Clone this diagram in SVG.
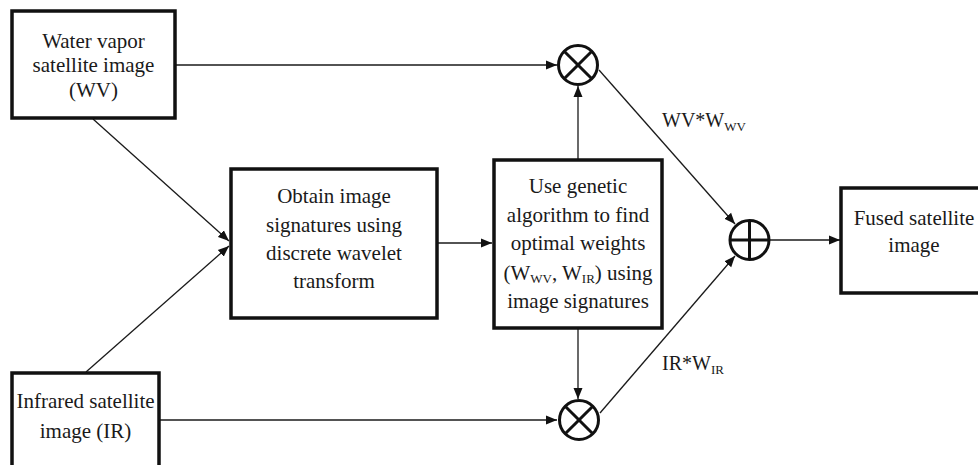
<svg xmlns="http://www.w3.org/2000/svg" width="978" height="465" viewBox="0 0 978 465" font-family="'Liberation Serif', 'Times New Roman', 'DejaVu Serif', serif">
<style>
.box{fill:#fff;stroke:#111;stroke-width:3.5}
text{font-family:'Liberation Serif','Times New Roman','DejaVu Serif',serif}
.t{font-size:21px;fill:#1a1a1a;text-anchor:middle}
.lbl{font-size:20px;fill:#1a1a1a}
.sub{font-size:13px}
.ln{fill:none;stroke:#1a1a1a;stroke-width:1.3}
.op{fill:#fff;stroke:#111;stroke-width:3}
.opl{stroke:#111;stroke-width:3}
</style>
<defs>
<marker id="arr" markerUnits="userSpaceOnUse" markerWidth="12" markerHeight="10" refX="11" refY="5" orient="auto">
<path d="M0,0.5 L11,5 L0,9.5 z" fill="#111"/>
</marker>
</defs>
<rect width="978" height="465" fill="#fff"/>
<g id="connectors">
<line class="ln" x1="175" y1="65" x2="557" y2="65" marker-end="url(#arr)"/>
<line class="ln" x1="93" y1="119" x2="229" y2="241" marker-end="url(#arr)"/>
<line class="ln" x1="86" y1="372" x2="229" y2="246" marker-end="url(#arr)"/>
<line class="ln" x1="437" y1="243" x2="492" y2="243" marker-end="url(#arr)"/>
<line class="ln" x1="578" y1="159" x2="578" y2="86" marker-end="url(#arr)"/>
<line class="ln" x1="578" y1="329" x2="578" y2="399" marker-end="url(#arr)"/>
<line class="ln" x1="159" y1="420" x2="557" y2="420" marker-end="url(#arr)"/>
<line class="ln" x1="599" y1="70" x2="735" y2="224" marker-end="url(#arr)"/>
<line class="ln" x1="600" y1="413" x2="735" y2="256" marker-end="url(#arr)"/>
<line class="ln" x1="770" y1="240" x2="840" y2="240" marker-end="url(#arr)"/>
</g>
<g id="wv">
<rect class="box" x="12" y="11" width="163" height="107"/>
<text class="t" x="93.5" y="48">Water vapor</text>
<text class="t" x="93.5" y="72">satellite image</text>
<text class="t" x="93.5" y="97">(WV)</text>
</g>
<g id="ir">
<rect class="box" x="12" y="373" width="147" height="95"/>
<text class="t" x="85.5" y="408">Infrared satellite</text>
<text class="t" x="85.5" y="438">image (IR)</text>
</g>
<g id="dwt">
<rect class="box" x="231" y="169" width="206" height="149"/>
<text class="t" x="334" y="203">Obtain image</text>
<text class="t" x="334" y="232">signatures using</text>
<text class="t" x="334" y="260">discrete wavelet</text>
<text class="t" x="334" y="288">transform</text>
</g>
<g id="ga">
<rect class="box" x="494" y="160" width="168" height="168"/>
<text class="t" x="578" y="193">Use genetic</text>
<text class="t" x="578" y="222">algorithm to find</text>
<text class="t" x="578" y="250">optimal weights</text>
<text class="t" x="578" y="280">(W<tspan class="sub" dy="3">WV</tspan><tspan dy="-3">, W</tspan><tspan class="sub" dy="3">IR</tspan><tspan dy="-3">) using</tspan></text>
<text class="t" x="578" y="308">image signatures</text>
</g>
<g id="mul1">
<circle class="op" cx="578" cy="65" r="19.5"/>
<line class="opl" x1="564.2" y1="51.2" x2="591.8" y2="78.8"/>
<line class="opl" x1="591.8" y1="51.2" x2="564.2" y2="78.8"/>
</g>
<g id="mul2">
<circle class="op" cx="579" cy="420" r="19.5"/>
<line class="opl" x1="565.2" y1="406.2" x2="592.8" y2="433.8"/>
<line class="opl" x1="592.8" y1="406.2" x2="565.2" y2="433.8"/>
</g>
<g id="sum">
<circle class="op" cx="749.5" cy="240" r="19.5"/>
<line class="opl" x1="730" y1="240" x2="769" y2="240"/>
<line class="opl" x1="749.5" y1="220.5" x2="749.5" y2="259.5"/>
</g>
<g id="fused">
<rect class="box" x="841" y="188" width="147" height="105"/>
<text class="t" x="914" y="225">Fused satellite</text>
<text class="t" x="914" y="252">image</text>
</g>
<g id="labels">
<text class="lbl" x="662" y="127">WV*W<tspan class="sub" dy="4">WV</tspan></text>
<text class="lbl" x="662" y="370">IR*W<tspan class="sub" dy="4">IR</tspan></text>
</g>
</svg>
